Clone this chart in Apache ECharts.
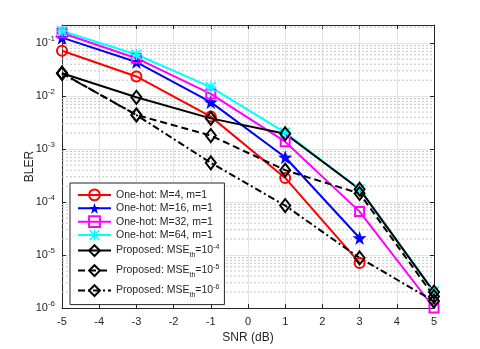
<!DOCTYPE html>
<html>
<head>
<meta charset="utf-8">
<script src="https://cdn.jsdelivr.net/npm/echarts@6/dist/echarts.min.js"></script>
<style>
  html, body { margin: 0; padding: 0; background: #fff; }
  #chart { width: 480px; height: 349px; }
</style>
</head>
<body>
<div id="chart"></div>
<script>
// SNR 点 (dB)
const snr = [-5, -3, -1, 1, 3, 5]

// 各曲线的 BLER
const oneHotM4 = [0.072, 0.0235, 0.0041, 2.85e-4, 7.1e-6]
const oneHotM16 = [0.127, 0.044, 0.0077, 7.0e-4, 2.1e-5]
const oneHotM32 = [0.155, 0.052, 0.011, 1.38e-3, 6.6e-5, 1.0e-6]
const oneHotM64 = [0.17, 0.061, 0.0148, 2.05e-3, 1.75e-4, 2.05e-6]
const propMse4 = [0.027, 0.0095, 0.0038, 1.95e-3, 1.75e-4, 2.0e-6]
const propMse5 = [0.027, 0.0044, 0.0018, 4.0e-4, 1.45e-4, 1.65e-6]
const propMse6 = [0.027, 0.0044, 5.5e-4, 8.6e-5, 8.8e-6, 1.35e-6]

const yMin = 1e-6
const yMax = 0.22
const FONT = 'Liberation Sans, Arial, Helvetica, sans-serif'
const TXT = '#262626'

const pairs = arr => arr.map((v, i) => [snr[i], v])

// MATLAB 风格的星号
const asterisk = 'path://M0 8.6L20 8.6L20 11.4L0 11.4Z M8.6 0L11.4 0L11.4 20L8.6 20Z ' +
  'M0 2L2 0L20 18L18 20Z M18 0L20 2L2 20L0 18Z'
const star = 'path://M10 0L12.35 6.76L19.51 6.91L13.8 11.24L15.88 18.09L10 14L4.12 18.09L6.2 11.24L0.49 6.91L7.65 6.76Z'

const hollow = c => ({ color: 'none', borderColor: c, borderWidth: 2 })

function mk(name, data, color, symbol, size, lineType, itemStyle) {
  return {
    name: name,
    type: 'line',
    data: pairs(data),
    symbol: symbol,
    symbolSize: size,
    showAllSymbol: true,
    lineStyle: { color: color, width: 2, type: lineType || 'solid' },
    itemStyle: itemStyle || { color: color },
    emphasis: { disabled: true },
    z: 3
  }
}

const series = []

// 次网格线 (2..9 × 10^n)，每条一个系列
for (let n = -6; n <= -1; n++) {
  for (let k = 2; k <= 9; k++) {
    const v = k * Math.pow(10, n)
    if (v >= yMax) continue
    series.push({
      type: 'line',
      data: [[-5, v], [5, v]],
      symbol: 'none',
      silent: true,
      clip: false,
      lineStyle: { color: '#c4c4c4', width: 1, type: [2, 2] },
      emphasis: { disabled: true },
      z: 1
    })
  }
}

series.push(
  mk('m4', oneHotM4, '#ff0000', 'circle', 10, 'solid', hollow('#ff0000')),
  mk('m16', oneHotM16, '#0000ff', star, 14, 'solid'),
  mk('m32', oneHotM32, '#ff00ff', 'rect', 9, 'solid', hollow('#ff00ff')),
  mk('m64', oneHotM64, '#00ffff', asterisk, 11, 'solid'),
  mk('p4', propMse4, '#000000', 'diamond', [10, 13], 'solid', hollow('#000000')),
  mk('p5', propMse5, '#000000', 'diamond', [10, 13], [7, 4], hollow('#000000')),
  mk('p6', propMse6, '#000000', 'diamond', [10, 13], [7, 3, 2, 3], hollow('#000000'))
)

const legendNames = {
  m4: 'One-hot: M=4, m=1',
  m16: 'One-hot: M=16, m=1',
  m32: 'One-hot: M=32, m=1',
  m64: 'One-hot: M=64, m=1',
  p4: '{base|Proposed: MSE}{sub|th}{base|=10}{sup|-4}',
  p5: '{base|Proposed: MSE}{sub|th}{base|=10}{sup|-5}',
  p6: '{base|Proposed: MSE}{sub|th}{base|=10}{sup|-6}'
}

const chart = echarts.init(document.getElementById('chart'))
chart.setOption({
  backgroundColor: '#fff',
  animation: false,
  textStyle: { fontFamily: FONT },
  grid: { left: 62, right: 46, top: 25, bottom: 39 },
  legend: {
    orient: 'vertical',
    left: 70,
    top: 183,
    itemWidth: 33,
    itemHeight: 13.5,
    itemGap: 0,
    padding: [4, 5, 4, 7],
    backgroundColor: '#fff',
    borderColor: '#262626',
    borderWidth: 1,
    borderRadius: 0,
    data: ['m4', 'm16', 'm32', 'm64', 'p4', 'p5', 'p6'],
    formatter: n => legendNames[n],
    textStyle: {
      fontSize: 10.5,
      color: TXT,
      fontFamily: FONT,
      rich: {
        base: { fontSize: 10.5, color: TXT, fontFamily: FONT, lineHeight: 20 },
        sub: { fontSize: 7, color: TXT, fontFamily: FONT, verticalAlign: 'bottom', lineHeight: 9, padding: [0, 0, 2, 0] },
        sup: { fontSize: 7, color: TXT, fontFamily: FONT, verticalAlign: 'top', lineHeight: 9, padding: [3, 0, 0, 0] }
      }
    }
  },
  xAxis: [{
    type: 'value',
    min: -5,
    max: 5,
    interval: 1,
    name: 'SNR (dB)',
    nameLocation: 'middle',
    nameGap: 24,
    nameMoveOverlap: false,
    nameTextStyle: { fontSize: 12, color: TXT },
    axisLine: { onZero: false, lineStyle: { color: '#262626' } },
    axisTick: { inside: true, length: 4, lineStyle: { color: '#262626' } },
    axisLabel: { fontSize: 11, color: TXT, margin: 8 },
    splitLine: { show: true, lineStyle: { color: '#e3e3e3' } }
  }, {
    type: 'value',
    position: 'top',
    min: -5,
    max: 5,
    interval: 1,
    axisLine: { show: true, onZero: false, lineStyle: { color: '#262626' } },
    axisTick: { show: true, inside: true, length: 4, lineStyle: { color: '#262626' } },
    axisLabel: { show: false },
    splitLine: { show: false }
  }],
  yAxis: [{
    type: 'log',
    logBase: 10,
    min: yMin,
    max: yMax,
    name: 'BLER',
    nameLocation: 'middle',
    nameGap: 26,
    nameMoveOverlap: false,
    nameTextStyle: { fontSize: 12, color: TXT },
    axisLine: { show: true, onZero: false, lineStyle: { color: '#262626' } },
    axisTick: { show: true, inside: true, length: 4, lineStyle: { color: '#262626' } },
    axisLabel: {
      showMaxLabel: false,
      margin: 7,
      formatter: v => '{a|10}{b|' + Math.round(Math.log10(v)) + '}',
      rich: {
        a: { fontSize: 11, color: TXT, fontFamily: FONT, lineHeight: 16 },
        b: { fontSize: 8, color: TXT, fontFamily: FONT, verticalAlign: 'top', lineHeight: 9 }
      }
    },
    splitLine: { show: true, lineStyle: { color: '#e3e3e3' } }
  }, {
    type: 'log',
    logBase: 10,
    position: 'right',
    min: yMin,
    max: yMax,
    axisLine: { show: true, onZero: false, lineStyle: { color: '#262626' } },
    axisTick: { show: true, inside: true, length: 4, lineStyle: { color: '#262626' } },
    axisLabel: { show: false },
    splitLine: { show: false }
  }],
  series: series
})
</script>
</body>
</html>
